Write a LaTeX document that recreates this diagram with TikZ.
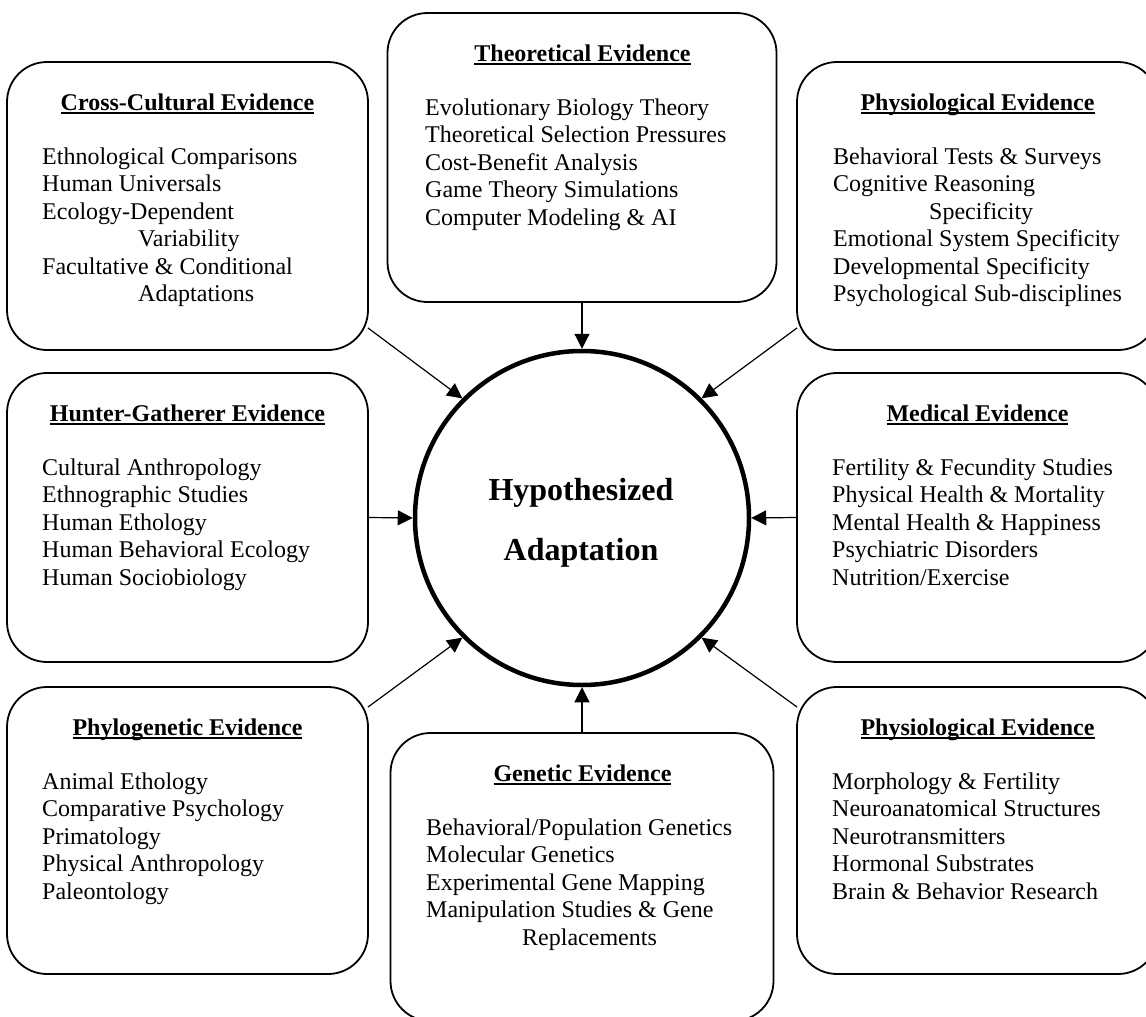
\documentclass[tikz,border=0pt]{standalone}
\usepackage{fontspec}
\setmainfont{Liberation Serif}
\usetikzlibrary{arrows.meta}
\newcommand\ulttl[1]{\setbox0=\hbox{#1}\rlap{\rule[-3.5pt]{\wd0}{1.8pt}}\box0}
\tikzset{
 ebox/.style={draw, rounded corners=40pt, line width=1.8pt, inner sep=0pt},
 ttl/.style={anchor=base, inner sep=0pt, font=\fontsize{24pt}{27.5pt}\selectfont\bfseries},
 bod/.style={anchor=base west, inner sep=0pt, font=\fontsize{24pt}{27.5pt}\selectfont},
 conn/.style={line width=1.2pt, -{Triangle[length=15pt,width=15pt]}},
 hub/.style={circle, draw, line width=4.5pt, minimum size=334pt, inner sep=0pt},
 hubtxt/.style={anchor=base, inner sep=0pt, font=\fontsize{32pt}{38pt}\selectfont\bfseries}
}
\begin{document}
\begin{tikzpicture}[x=1pt,y=-1pt]
\useasboundingbox (0,0) rectangle (1146,1017);
\clip (0,0) rectangle (1146,1017);
% boxes
\node[ebox, minimum width=361pt, minimum height=288pt] (cc) at (187.5,206) {};
\node[ebox, minimum width=389pt, minimum height=289pt] (theo) at (582,157.5) {};
\node[ebox, minimum width=361pt, minimum height=288pt] (phy1) at (977.5,206) {};
\node[ebox, minimum width=361pt, minimum height=289pt] (hg) at (187.5,517.5) {};
\node[ebox, minimum width=361pt, minimum height=289pt] (med) at (977.5,517.5) {};
\node[ebox, minimum width=361pt, minimum height=287pt] (phylo) at (187.5,830.5) {};
\node[ebox, minimum width=383pt, minimum height=288pt] (gen) at (582,877) {};
\node[ebox, minimum width=361pt, minimum height=287pt] (phy2) at (977.5,830.5) {};
% hub
\node[hub] (hyp) at (582,518) {};
\node[hubtxt] (hyp1) at (581,500) {Hypothesized};
\node[hubtxt] (hyp2) at (581,560) {Adaptation};
% titles
\node[ttl] (cc-t) at (187.5,110) {\ulttl{Cross-Cultural Evidence}};
\node[ttl] (theo-t) at (582.5,61) {\ulttl{Theoretical Evidence}};
\node[ttl] (phy1-t) at (977.5,110) {\ulttl{Physiological Evidence}};
\node[ttl] (hg-t) at (187.5,421) {\ulttl{Hunter-Gatherer Evidence}};
\node[ttl] (med-t) at (977.5,421) {\ulttl{Medical Evidence}};
\node[ttl] (phylo-t) at (187.5,735) {\ulttl{Phylogenetic Evidence}};
\node[ttl] (gen-t) at (582.5,781) {\ulttl{Genetic Evidence}};
\node[ttl] (phy2-t) at (977.5,735) {\ulttl{Physiological Evidence}};
% bodies
\foreach \t [count=\i from 0] in {Ethnological Comparisons,Human Universals,Ecology-Dependent,\hspace*{96pt}Variability,Facultative \& Conditional,\hspace*{96pt}Adaptations}
  \node[bod] (cc-\i) at (42,{164+27.5*\i}) {\t};
\foreach \t [count=\i from 0] in {Evolutionary Biology Theory,Theoretical Selection Pressures,Cost-Benefit Analysis,Game Theory Simulations,Computer Modeling \& AI}
  \node[bod] (theo-\i) at (425,{115+27.5*\i}) {\t};
\foreach \t [count=\i from 0] in {Behavioral Tests \& Surveys,Cognitive Reasoning,\hspace*{96pt}Specificity,Emotional System Specificity,Developmental Specificity,Psychological Sub-disciplines}
  \node[bod] (phy1-\i) at (833,{164+27.5*\i}) {\t};
\foreach \t [count=\i from 0] in {Cultural Anthropology,Ethnographic Studies,Human Ethology,Human Behavioral Ecology,Human Sociobiology}
  \node[bod] (hg-\i) at (42,{475+27.5*\i}) {\t};
\foreach \t [count=\i from 0] in {Fertility \& Fecundity Studies,Physical Health \& Mortality,Mental Health \& Happiness,Psychiatric Disorders,Nutrition/Exercise}
  \node[bod] (med-\i) at (832,{475+27.5*\i}) {\t};
\foreach \t [count=\i from 0] in {Animal Ethology,Comparative Psychology,Primatology,Physical Anthropology,Paleontology}
  \node[bod] (phylo-\i) at (42,{789+27.5*\i}) {\t};
\foreach \t [count=\i from 0] in {Behavioral/Population Genetics,Molecular Genetics,Experimental Gene Mapping,Manipulation Studies \& Gene,\hspace*{96pt}Replacements}
  \node[bod] (gen-\i) at (426,{835+27.5*\i}) {\t};
\foreach \t [count=\i from 0] in {Morphology \& Fertility,Neuroanatomical Structures,Neurotransmitters,Hormonal Substrates,Brain \& Behavior Research}
  \node[bod] (phy2-\i) at (832,{789+27.5*\i}) {\t};
% connector start points near the rounded corners
\coordinate (cc-o) at ([xshift=-1pt,yshift=23pt]cc.south east);
\coordinate (phy1-o) at ([xshift=1pt,yshift=23pt]phy1.south west);
\coordinate (phylo-o) at ([xshift=-1pt,yshift=-21pt]phylo.north east);
\coordinate (phy2-o) at ([xshift=1pt,yshift=-21pt]phy2.north west);
% connectors
\draw[conn] (theo.south) -- (hyp.north);
\draw[conn] (gen.north) -- (hyp.south);
\draw[conn] (hg.east) -- (hyp.west);
\draw[conn] (med.west) -- (hyp.east);
\draw[conn] (cc-o) -- (hyp.135);
\draw[conn] (phy1-o) -- (hyp.45);
\draw[conn] (phylo-o) -- (hyp.225);
\draw[conn] (phy2-o) -- (hyp.315);
\end{tikzpicture}
\end{document}
